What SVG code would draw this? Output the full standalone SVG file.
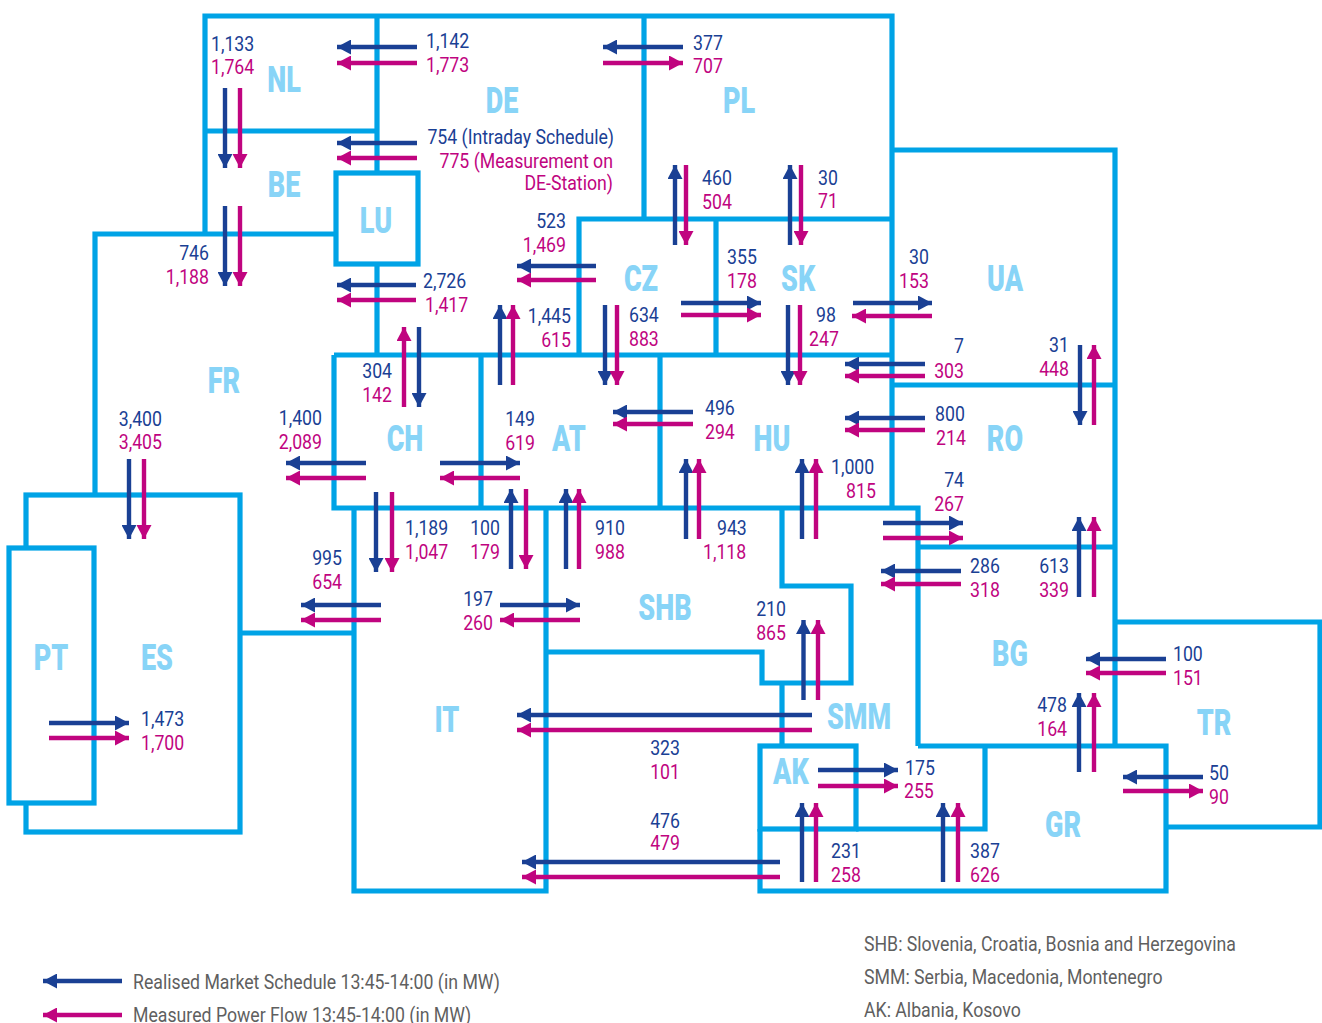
<svg xmlns="http://www.w3.org/2000/svg" width="1322" height="1023" viewBox="0 0 1322 1023">
<style>
text{font-family:"Roboto","Liberation Sans",sans-serif;transform-box:fill-box;transform-origin:left center;transform:scaleX(.885)}
.b{fill:#1a4094;font-size:20px}.m{fill:#c0047f;font-size:20px}
.e{text-anchor:end;transform-origin:right center}
.r{fill:#88d4f7;font-size:36px;font-weight:900;text-anchor:middle;transform-origin:center center;transform:scaleX(.75)}
.g{fill:#5f5f5f;font-size:20px}
.bd{fill:none;stroke:#00a3e6;stroke-width:5.2;stroke-linejoin:miter}
.ab{fill:none;stroke:#1a4094;stroke-width:4.4;marker-end:url(#hb)}
.am{fill:none;stroke:#c0047f;stroke-width:4.4;marker-end:url(#hm)}
</style>
<defs>
<marker id="hb" markerUnits="userSpaceOnUse" markerWidth="14" markerHeight="15" refX="14" refY="7.5" orient="auto" viewBox="0 0 14 15"><path d="M0 0L14 7.5L0 15Z" fill="#1a4094"/></marker>
<marker id="hm" markerUnits="userSpaceOnUse" markerWidth="14" markerHeight="15" refX="14" refY="7.5" orient="auto" viewBox="0 0 14 15"><path d="M0 0L14 7.5L0 15Z" fill="#c0047f"/></marker>
</defs>
<rect width="1322" height="1023" fill="#fff"/>
<g id="borders" class="bd">
<path d="M377 16H205V234M205 131H377M377 16H892V355M377 16V173M377 264V355M644 16V219"/>
<rect x="336" y="173" width="82" height="91"/>
<path d="M336 234H95V495M579 355V219H892M716 219V355M334 355H892M892 150H1115V746M892 385H1115"/>
<path d="M334 355V508H918V746M481 355V508M660 355V508M892 355V508"/>
<rect x="26" y="495" width="214" height="337"/>
<rect x="9" y="548" width="85" height="255" fill="#fff"/>
<path d="M240 633H354M354 508V891H546V508M546 652H762V683H851V586H782V508M782 683V746"/>
<rect x="760" y="746" width="96" height="83"/>
<path d="M856 829H985V746M918 746H1166V891H760V829M918 547H1115M1115 622H1320V827H1166"/>
</g>
<g id="regions">
<text id="NL" class="r" x="284" y="92">NL</text>
<text id="DE" class="r" x="502" y="113">DE</text>
<text id="PL" class="r" x="739" y="113">PL</text>
<text id="BE" class="r" x="284" y="197">BE</text>
<text id="LU" class="r" x="376" y="233">LU</text>
<text id="CZ" class="r" x="641" y="291">CZ</text>
<text id="SK" class="r" x="798" y="291">SK</text>
<text id="UA" class="r" x="1005" y="291">UA</text>
<text id="FR" class="r" x="224" y="393">FR</text>
<text id="CH" class="r" x="405" y="451">CH</text>
<text id="AT" class="r" x="569" y="451">AT</text>
<text id="HU" class="r" x="772" y="451">HU</text>
<text id="RO" class="r" x="1005" y="451">RO</text>
<text id="SHB" class="r" x="665" y="620">SHB</text>
<text id="BG" class="r" x="1010" y="666">BG</text>
<text id="PT" class="r" x="51" y="670">PT</text>
<text id="ES" class="r" x="157" y="670">ES</text>
<text id="SMM" class="r" x="859" y="729">SMM</text>
<text id="IT" class="r" x="447" y="732">IT</text>
<text id="TR" class="r" x="1214" y="735">TR</text>
<text id="AK" class="r" x="791" y="784">AK</text>
<text id="GR" class="r" x="1063" y="837">GR</text>
</g>
<g id="connectors">
<path class="ab" d="M417 47H337"/><path class="am" d="M417 63H337"/>
<path class="ab" d="M417 143H337"/><path class="am" d="M417 158H337"/>
<path class="ab" d="M416 285H337"/><path class="am" d="M416 300H337"/>
<path class="ab" d="M225 88V168"/><path class="am" d="M240 88V168"/>
<path class="ab" d="M225 206V286"/><path class="am" d="M240 206V286"/>
<path class="ab" d="M683 47H603"/><path class="am" d="M603 63H683"/>
<path class="ab" d="M675 245V165"/><path class="am" d="M686 165V245"/>
<path class="ab" d="M790 245V165"/><path class="am" d="M801 165V245"/>
<path class="ab" d="M596 266H517"/><path class="am" d="M596 280H517"/>
<path class="ab" d="M500 385V305"/><path class="am" d="M513 385V305"/>
<path class="ab" d="M605 305V385"/><path class="am" d="M617 305V385"/>
<path class="ab" d="M681 303H761"/><path class="am" d="M681 315H761"/>
<path class="ab" d="M788 305V385"/><path class="am" d="M800 305V385"/>
<path class="ab" d="M853 303H932"/><path class="am" d="M932 316H852"/>
<path class="ab" d="M925 364H845"/><path class="am" d="M925 376H845"/>
<path class="ab" d="M925 418H845"/><path class="am" d="M925 430H845"/>
<path class="ab" d="M1080 345V425"/><path class="am" d="M1094 425V345"/>
<path class="am" d="M404 407V327"/><path class="ab" d="M419 327V407"/>
<path class="ab" d="M129 459V539"/><path class="am" d="M144 459V539"/>
<path class="ab" d="M366 463H286"/><path class="am" d="M366 478H286"/>
<path class="ab" d="M440 463H520"/><path class="am" d="M520 478H440"/>
<path class="ab" d="M693 412H613"/><path class="am" d="M693 424H613"/>
<path class="ab" d="M376 492V572"/><path class="am" d="M392 492V572"/>
<path class="ab" d="M511 569V489"/><path class="am" d="M526 489V569"/>
<path class="ab" d="M566 569V489"/><path class="am" d="M579 569V489"/>
<path class="ab" d="M686 539V459"/><path class="am" d="M699 539V459"/>
<path class="ab" d="M802 539V459"/><path class="am" d="M816 539V459"/>
<path class="ab" d="M883 523H963"/><path class="am" d="M883 538H963"/>
<path class="ab" d="M961 571H881"/><path class="am" d="M961 584H881"/>
<path class="ab" d="M1079 597V517"/><path class="am" d="M1094 597V517"/>
<path class="ab" d="M381 605H301"/><path class="am" d="M381 620H301"/>
<path class="ab" d="M500 605H580"/><path class="am" d="M580 620H500"/>
<path class="ab" d="M803.500 700V620"/><path class="am" d="M818 700V620"/>
<path class="ab" d="M812 715H517"/><path class="am" d="M812 730H517"/>
<path class="ab" d="M780 862H522"/><path class="am" d="M780 877H522"/>
<path class="ab" d="M802 882V803"/><path class="am" d="M816 882V803"/>
<path class="ab" d="M943 882V803"/><path class="am" d="M958 882V803"/>
<path class="ab" d="M818 770H898"/><path class="am" d="M818 786H898"/>
<path class="ab" d="M1079 772V693"/><path class="am" d="M1094 772V693"/>
<path class="ab" d="M1166 659H1086"/><path class="am" d="M1166 673H1086"/>
<path class="ab" d="M1203 777H1123"/><path class="am" d="M1123 791H1203"/>
<path class="ab" d="M49 723H129"/><path class="am" d="M49 738H129"/>
<path class="ab" d="M122 981H43"/><path class="am" d="M122 1015H43"/>
</g>
<g id="labels">
<text class="b" x="211" y="51">1,133</text><text class="m" x="211" y="74">1,764</text>
<text class="b" x="426" y="48">1,142</text><text class="m" x="426" y="72">1,773</text>
<text class="b" x="693" y="50">377</text><text class="m" x="693" y="73">707</text>
<text class="b e" x="614" y="144">754 (Intraday Schedule)</text>
<text class="m e" x="613" y="168">775 (Measurement on</text>
<text class="m e" x="613" y="190">DE-Station)</text>
<text class="b e" x="566" y="228">523</text><text class="m e" x="566" y="252">1,469</text>
<text class="b" x="702" y="185">460</text><text class="m" x="702" y="209">504</text>
<text class="b" x="818" y="185">30</text><text class="m" x="818" y="208">71</text>
<text class="b e" x="209" y="260">746</text><text class="m e" x="209" y="284">1,188</text>
<text class="b" x="423" y="288">2,726</text><text class="m" x="425" y="312">1,417</text>
<text class="b" x="727" y="264">355</text><text class="m" x="727" y="288">178</text>
<text class="b" x="909" y="264">30</text><text class="m" x="899" y="288">153</text>
<text class="b e" x="571" y="323">1,445</text><text class="m e" x="571" y="347">615</text>
<text class="b" x="629" y="322">634</text><text class="m" x="629" y="346">883</text>
<text class="b" x="816" y="322">98</text><text class="m" x="809" y="346">247</text>
<text class="b e" x="964" y="353">7</text><text class="m e" x="964" y="378">303</text>
<text class="b e" x="1069" y="352">31</text><text class="m e" x="1069" y="376">448</text>
<text class="b e" x="392" y="378">304</text><text class="m e" x="392" y="402">142</text>
<text class="b" x="705" y="415">496</text><text class="m" x="705" y="439">294</text>
<text class="b" x="935" y="421">800</text><text class="m" x="936" y="445">214</text>
<text class="b e" x="162" y="426">3,400</text><text class="m e" x="162" y="449">3,405</text>
<text class="b e" x="322" y="425">1,400</text><text class="m e" x="322" y="449">2,089</text>
<text class="b e" x="535" y="426">149</text><text class="m e" x="535" y="450">619</text>
<text class="b" x="831" y="474">1,000</text><text class="m" x="846" y="498">815</text>
<text class="b e" x="964" y="487">74</text><text class="m e" x="964" y="511">267</text>
<text class="b" x="405" y="535">1,189</text><text class="m" x="405" y="559">1,047</text>
<text class="b e" x="500" y="535">100</text><text class="m e" x="500" y="559">179</text>
<text class="b" x="595" y="535">910</text><text class="m" x="595" y="559">988</text>
<text class="b" x="717" y="535">943</text><text class="m" x="703" y="559">1,118</text>
<text class="b" x="970" y="573">286</text><text class="m" x="970" y="597">318</text>
<text class="b e" x="1069" y="573">613</text><text class="m e" x="1069" y="597">339</text>
<text class="b e" x="342" y="565">995</text><text class="m e" x="342" y="589">654</text>
<text class="b e" x="493" y="606">197</text><text class="m e" x="493" y="630">260</text>
<text class="b e" x="786" y="616">210</text><text class="m e" x="786" y="640">865</text>
<text class="b" x="1173" y="661">100</text><text class="m" x="1173" y="685">151</text>
<text class="b e" x="1067" y="712">478</text><text class="m e" x="1067" y="736">164</text>
<text class="b" x="141" y="726">1,473</text><text class="m" x="141" y="750">1,700</text>
<text class="b e" x="680" y="755">323</text><text class="m e" x="680" y="779">101</text>
<text class="b" x="905" y="775">175</text><text class="m" x="904" y="798">255</text>
<text class="b" x="1209" y="780">50</text><text class="m" x="1209" y="804">90</text>
<text class="b e" x="680" y="828">476</text><text class="m e" x="680" y="850">479</text>
<text class="b" x="831" y="858">231</text><text class="m" x="831" y="882">258</text>
<text class="b" x="970" y="858">387</text><text class="m" x="970" y="882">626</text>
</g>
<g id="legend">
<text class="g" x="133" y="989">Realised Market Schedule 13:45-14:00 (in MW)</text>
<text class="g" x="133" y="1022">Measured Power Flow 13:45-14:00 (in MW)</text>
<text class="g" x="864" y="951">SHB: Slovenia, Croatia, Bosnia and Herzegovina</text>
<text class="g" x="864" y="984">SMM: Serbia, Macedonia, Montenegro</text>
<text class="g" x="864" y="1017">AK: Albania, Kosovo</text>
</g>
</svg>
